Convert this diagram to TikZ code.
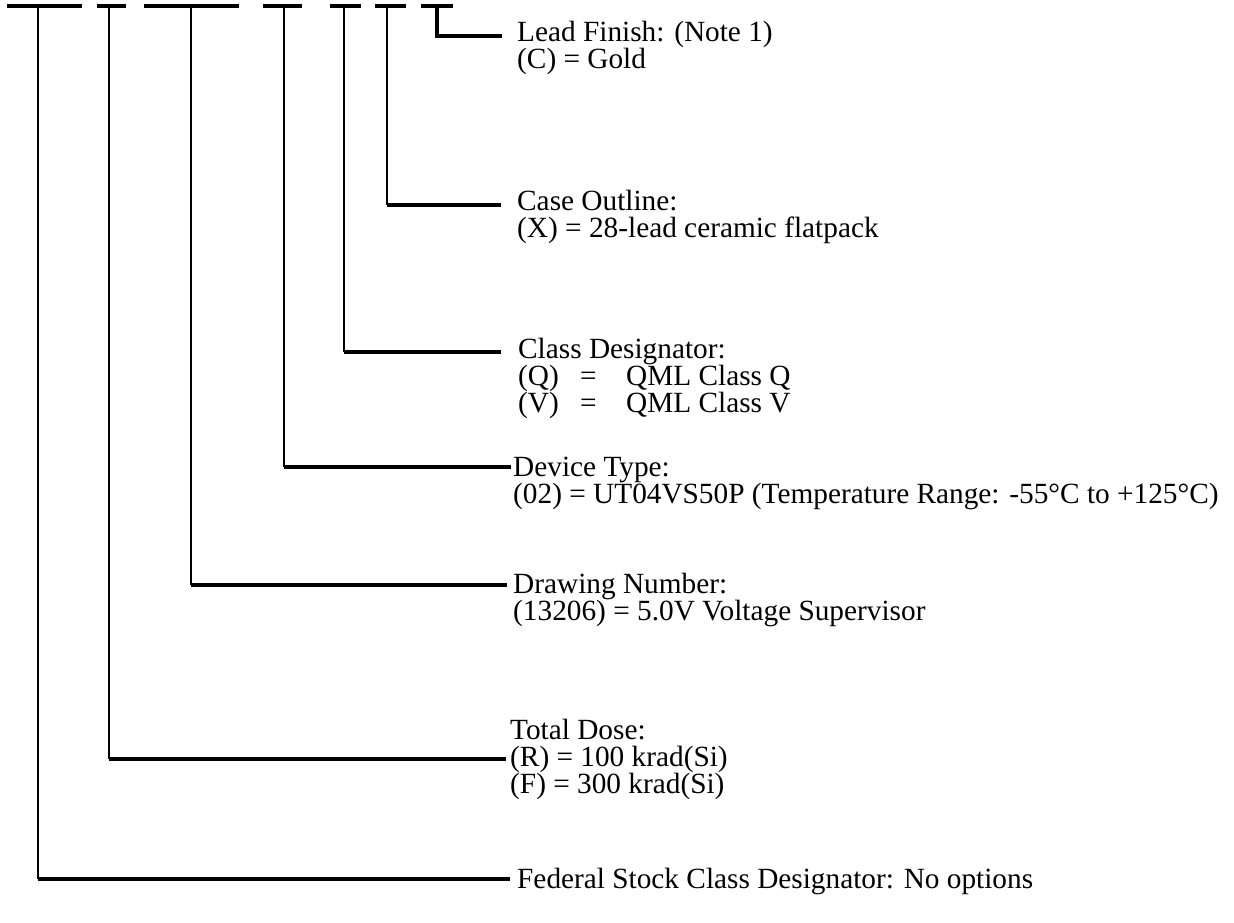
\documentclass[tikz,border=0pt]{standalone}
\usepackage{fontspec}
\setmainfont{Liberation Serif}
\begin{document}
\begin{tikzpicture}[x=1pt,y=-1pt,
  dashln/.style={line width=3.6pt},
  vln/.style={line width=1.7pt},
  hln/.style={line width=3.4pt},
  lbl/.style={anchor=base west,inner sep=0pt,font=\fontsize{29.3}{27}\selectfont}]
\useasboundingbox (0,0) rectangle (1234,922);
% top dashes
\draw[dashln] (7,6) -- (82,6);
\draw[dashln] (97,6) -- (126,6);
\draw[dashln] (144,6) -- (239,6);
\draw[dashln] (263,6) -- (302,6);
\draw[dashln] (330,6) -- (361,6);
\draw[dashln] (375,6) -- (406,6);
\draw[dashln] (421,6) -- (453,6);
% dash tap points
\coordinate (d1) at (38,6);
\coordinate (d2) at (109,6);
\coordinate (d3) at (191,6);
\coordinate (d4) at (284,6);
\coordinate (d5) at (344,6);
\coordinate (d6) at (387,6);
\coordinate (d7) at (437,6);
% corner and end points
\coordinate (c7) at (437,36);  \coordinate (e7) at (502,36);
\coordinate (c6) at (387,205); \coordinate (e6) at (501,205);
\coordinate (c5) at (344,352); \coordinate (e5) at (501,352);
\coordinate (c4) at (284,467); \coordinate (e4) at (511,467);
\coordinate (c3) at (191,585); \coordinate (e3) at (507,585);
\coordinate (c2) at (109,759); \coordinate (e2) at (506,759);
\coordinate (c1) at (38,879);  \coordinate (e1) at (510,879);
% texts
\node[lbl] (t7a) at (517,41) {Lead Finish: (Note 1)};
\node[lbl] (t7b) at (517,68) {(C) = Gold};
\node[lbl] (t6a) at (517,210) {Case Outline:};
\node[lbl] (t6b) at (517,237) {(X) = 28-lead ceramic flatpack};
\node[lbl] (t5a) at (518,358) {Class Designator:};
\node[lbl] (t5b) at (518,385) {\makebox[62pt][l]{(Q)}\makebox[46pt][l]{=}QML Class Q};
\node[lbl] (t5c) at (518,412) {\makebox[62pt][l]{(V)}\makebox[46pt][l]{=}QML Class V};
\node[lbl] (t4a) at (513,476) {Device Type:};
\node[lbl] (t4b) at (513,503) {(02) = UT04VS50P (Temperature Range: -55°C to +125°C)};
\node[lbl] (t3a) at (513,593) {Drawing Number:};
\node[lbl] (t3b) at (513,620) {(13206) = 5.0V Voltage Supervisor};
\node[lbl] (t2a) at (510,739) {Total Dose:};
\node[lbl] (t2b) at (510,766) {(R) = 100 krad(Si)};
\node[lbl] (t2c) at (510,793) {(F) = 300 krad(Si)};
\node[lbl] (t1a) at (517,888) {Federal Stock Class Designator: No options};
% connectors
\draw[hln] (d7) -- (c7) -- (e7);
\draw[vln] (d6) -- (c6); \draw[hln] (c6) -- (e6);
\draw[vln] (d5) -- (c5); \draw[hln] (c5) -- (e5);
\draw[vln] (d4) -- (c4); \draw[hln] (c4) -- (e4);
\draw[vln] (d3) -- (c3); \draw[hln] (c3) -- (e3);
\draw[vln] (d2) -- (c2); \draw[hln] (c2) -- (e2);
\draw[vln] (d1) -- (c1); \draw[hln] (c1) -- (e1);
\end{tikzpicture}
\end{document}
